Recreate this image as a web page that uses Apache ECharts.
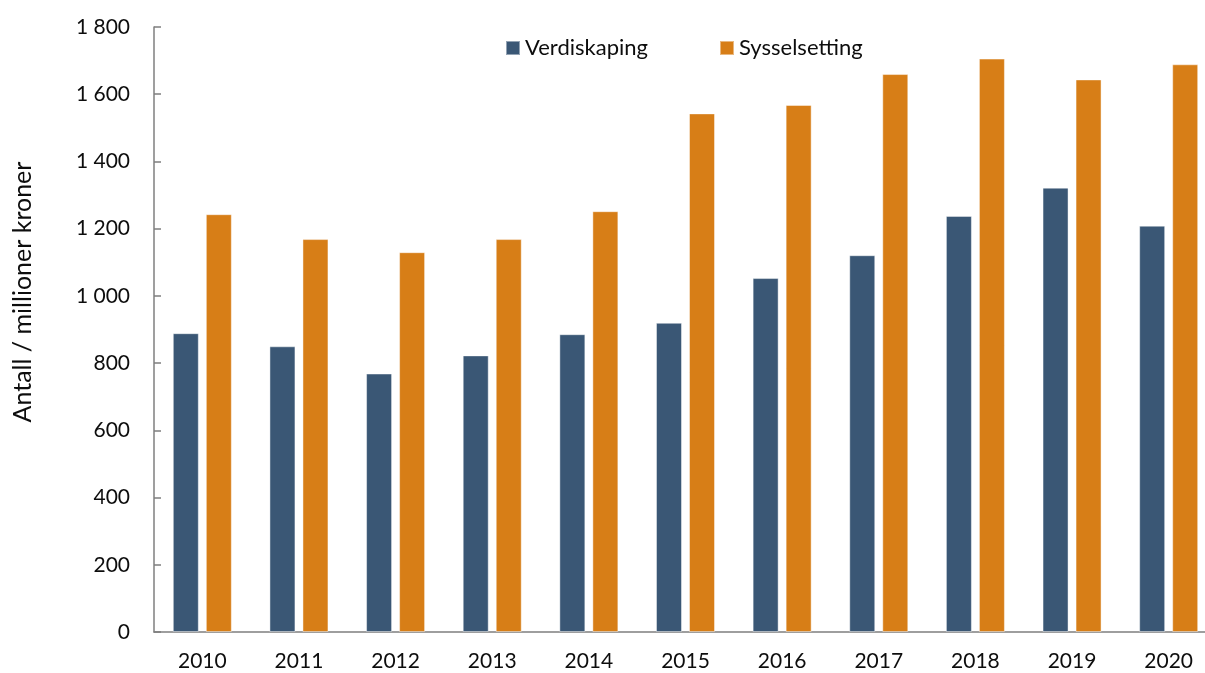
<!DOCTYPE html>
<html lang="no">
<head>
    <meta charset="UTF-8">
    <script type="text/javascript" src="https://cdn.jsdelivr.net/npm/echarts@6/dist/echarts.min.js"></script>
    <title>Verdiskaping og sysselsetting</title>
    <style>
        html, body { margin: 0; padding: 0; background: #fff; overflow: hidden; }
    </style>
</head>
<body>
<!-- plottet er kuttet i høyre kant i originalen, derfor litt bredere enn vinduet -->
<div id="chart" style="width: 1217px;height:673px;"></div>
<script type="text/javascript">
    // data lest av figuren
    var years = ['2010', '2011', '2012', '2013', '2014', '2015', '2016', '2017', '2018', '2019', '2020'];
    var verdiskaping = [889, 850, 769, 823, 886, 920, 1053, 1121, 1238, 1322, 1209];
    var sysselsetting = [1243, 1169, 1130, 1169, 1252, 1543, 1568, 1660, 1706, 1644, 1689];
    var yTicks = [0, 200, 400, 600, 800, 1000, 1200, 1400, 1600, 1800];

    var font = 'Lato, "Open Sans", sans-serif';
    var grey = '#7f7f7f';
    var ink = '#0d0d0d';

    var chart = echarts.init(document.getElementById('chart'));

    chart.setOption({
        animation: false,
        textStyle: { fontFamily: font },
        grid: {
            left: 154,
            top: 27,
            bottom: 41,
            right: 0,
            containLabel: false
        },
        legend: [{
            data: ['Verdiskaping'],
            left: 500,
            top: 32,
            icon: 'rect',
            itemWidth: 14,
            itemHeight: 14,
            itemGap: 5,
            textStyle: { fontSize: 22, color: ink, fontFamily: font }
        }, {
            data: ['Sysselsetting'],
            left: 714,
            top: 32,
            icon: 'rect',
            itemWidth: 14,
            itemHeight: 14,
            itemGap: 5,
            textStyle: { fontSize: 22, color: ink, fontFamily: font }
        }],
        graphic: [{
            type: 'text',
            x: 23,
            y: 292,
            rotation: Math.PI / 2,
            style: {
                text: 'Antall / millioner kroner',
                textAlign: 'center',
                textVerticalAlign: 'middle',
                fontSize: 25,
                fontFamily: font,
                fill: ink
            }
        }],
        xAxis: {
            type: 'category',
            data: years,
            axisLine: { lineStyle: { color: grey, width: 1.5 } },
            axisTick: { show: false },
            axisLabel: { fontSize: 21, color: ink, margin: 19 }
        },
        yAxis: {
            type: 'value',
            min: yTicks[0],
            max: yTicks[yTicks.length - 1],
            interval: 200,
            splitLine: { show: false },
            axisLine: { show: true, lineStyle: { color: grey, width: 1.5 } },
            axisTick: { show: true, inside: true, length: 7, lineStyle: { color: grey, width: 1.5 } },
            axisLabel: {
                fontSize: 21,
                color: ink,
                margin: 24,
                formatter: function (v) {
                    return String(v).replace(/\B(?=(\d{3})+(?!\d))/g, ' ');
                }
            }
        },
        series: [{
            name: 'Verdiskaping',
            type: 'bar',
            data: verdiskaping,
            barWidth: 26,
            barGap: '27%',
            itemStyle: { color: '#3a5775', borderColor: 'rgba(255,255,255,0.45)', borderWidth: 1 }
        }, {
            name: 'Sysselsetting',
            type: 'bar',
            data: sysselsetting,
            barWidth: 26,
            barGap: '27%',
            itemStyle: { color: '#d77e17', borderColor: 'rgba(255,255,255,0.45)', borderWidth: 1 }
        }]
    });
</script>
</body>
</html>
